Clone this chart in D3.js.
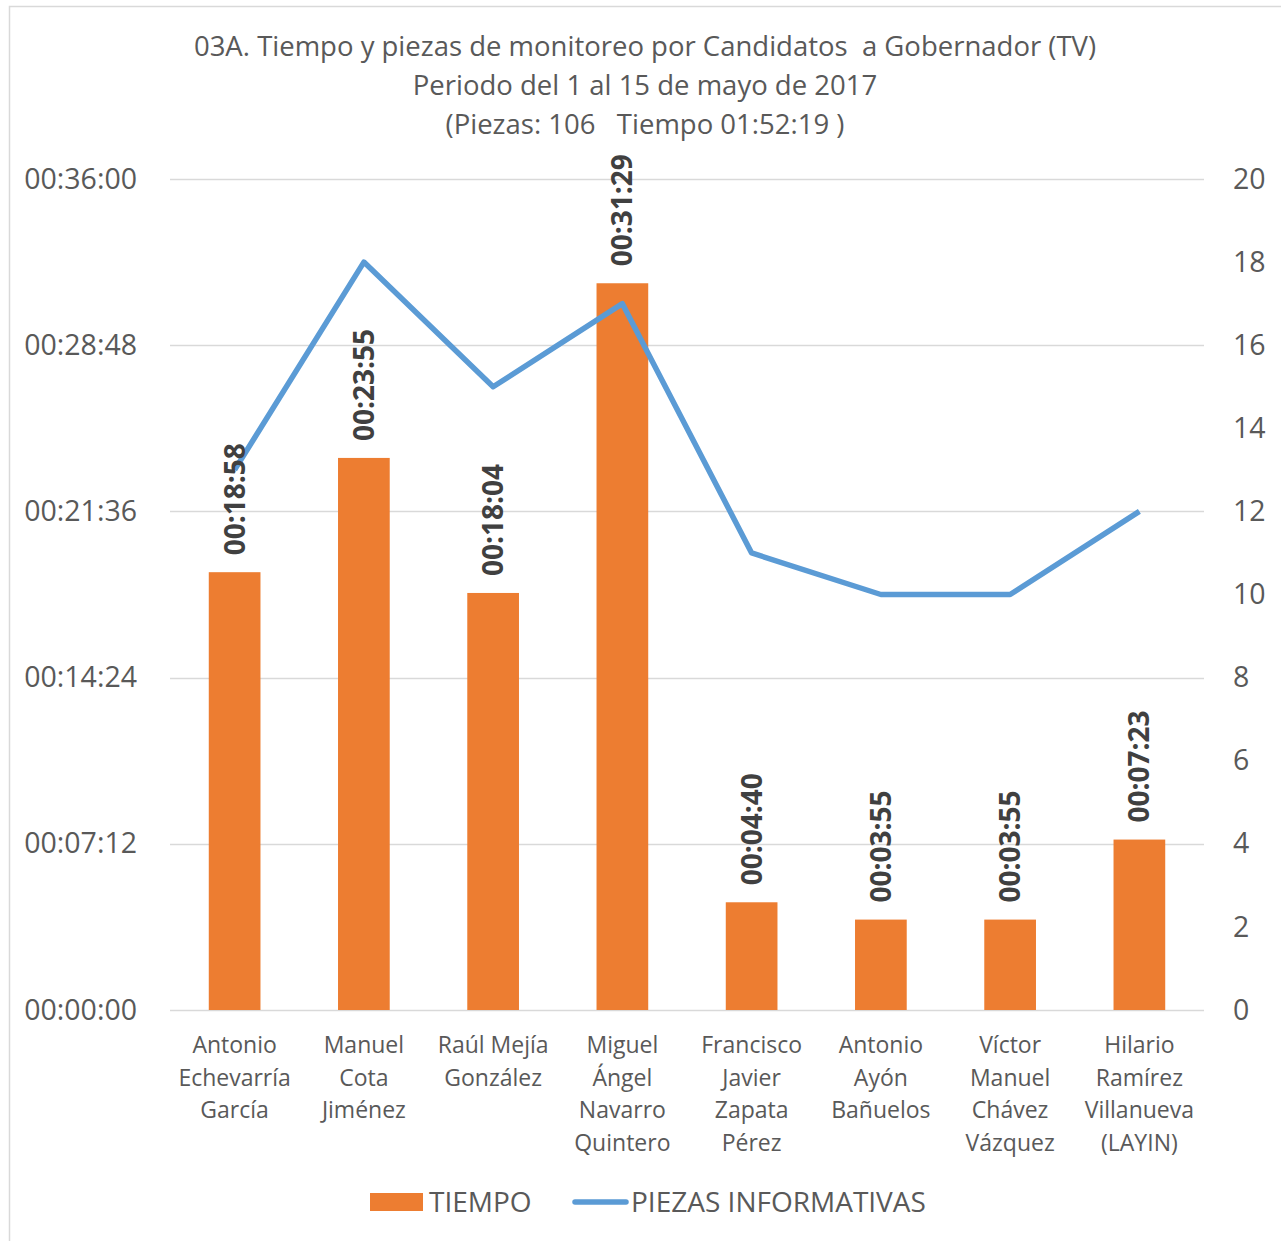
<!DOCTYPE html>
<html>
<head>
<meta charset="utf-8">
<script src="https://cdn.jsdelivr.net/npm/d3@7"></script>
<style>
  body { margin: 0; background: #fff; }
  text { font-family: "Open Sans", sans-serif; fill: #595959; white-space: pre; }
</style>
</head>
<body>
<div id="chart"></div>
<script>
// Datos del monitoreo (TV), 1 al 15 de mayo de 2017
const candidatos = [
    'Antonio\nEchevarría\nGarcía',
    'Manuel\nCota\nJiménez',
    'Raúl Mejía\nGonzález',
    'Miguel\nÁngel\nNavarro\nQuintero',
    'Francisco\nJavier\nZapata\nPérez',
    'Antonio\nAyón\nBañuelos',
    'Víctor\nManuel\nChávez\nVázquez',
    'Hilario\nRamírez\nVillanueva\n(LAYIN)'
];
const tiempo = ['00:18:58', '00:23:55', '00:18:04', '00:31:29', '00:04:40', '00:03:55', '00:03:55', '00:07:23'];
const piezas = [13, 18, 15, 17, 11, 10, 10, 12];
const tiempoTicks = ['00:00:00', '00:07:12', '00:14:24', '00:21:36', '00:28:48', '00:36:00'];
const piezasTicks = [0, 2, 4, 6, 8, 10, 12, 14, 16, 18, 20];
const titulo = [
    '03A. Tiempo y piezas de monitoreo por Candidatos  a Gobernador (TV)',
    'Periodo del 1 al 15 de mayo de 2017',
    '(Piezas: 106   Tiempo 01:52:19 )'
];

const toSec = s => { const p = s.split(':').map(Number); return p[0] * 3600 + p[1] * 60 + p[2]; };

const width = 1281, height = 1241;
const plotLeft = 170, plotRight = 1204, plotTop = 179, plotBottom = 1010;
const orange = '#ED7D31', blue = '#5B9BD5';

const svg = d3.select('#chart').append('svg')
    .attr('width', width)
    .attr('height', height);

// marco
svg.append('rect')
    .attr('x', 9.5).attr('y', 6.5)
    .attr('width', 1300).attr('height', 1300)
    .attr('fill', 'none')
    .attr('stroke', '#D9D9D9')
    .attr('stroke-width', 1.5);

const x = d3.scaleBand()
    .domain(candidatos)
    .range([plotLeft, plotRight])
    .paddingInner(0.6)
    .paddingOuter(0.3);

const yL = d3.scaleLinear()
    .domain([0, toSec(tiempoTicks[tiempoTicks.length - 1])])
    .range([plotBottom, plotTop]);

const yR = d3.scaleLinear()
    .domain([0, 20])
    .range([plotBottom, plotTop]);

// titulo
titulo.forEach((t, i) => {
    svg.append('text')
        .attr('x', 645)
        .attr('y', 46 + i * 39)
        .attr('dy', '0.35em')
        .attr('text-anchor', 'middle')
        .style('font-size', '27.5px')
        .text(t);
});

// grid lines
svg.append('g')
    .selectAll('line')
    .data(tiempoTicks)
    .join('line')
    .attr('x1', plotLeft)
    .attr('x2', plotRight)
    .attr('y1', d => Math.round(yL(toSec(d))) + 0.5)
    .attr('y2', d => Math.round(yL(toSec(d))) + 0.5)
    .attr('stroke', '#D9D9D9')
    .attr('stroke-width', 1.5);

// eje izquierdo
const axisL = svg.append('g')
    .attr('transform', `translate(${plotLeft - 30},0)`)
    .call(d3.axisLeft(yL)
        .tickValues(tiempoTicks.map(toSec))
        .tickFormat((d, i) => tiempoTicks[i])
        .tickSize(0));
axisL.select('.domain').remove();
axisL.selectAll('text')
    .style('font-size', '28.5px')
    .style('font-family', '"Open Sans", sans-serif')
    .attr('fill', '#595959');

// eje derecho
const axisR = svg.append('g')
    .attr('transform', `translate(${plotRight + 29},0)`)
    .call(d3.axisRight(yR)
        .tickValues(piezasTicks)
        .tickSize(0));
axisR.select('.domain').remove();
axisR.selectAll('text')
    .attr('x', 0)
    .style('font-size', '28.5px')
    .style('font-family', '"Open Sans", sans-serif')
    .attr('fill', '#595959');

// barras
svg.append('g')
    .selectAll('rect')
    .data(candidatos)
    .join('rect')
    .attr('x', d => x(d))
    .attr('width', x.bandwidth())
    .attr('y', (d, i) => yL(toSec(tiempo[i])))
    .attr('height', (d, i) => plotBottom - yL(toSec(tiempo[i])))
    .attr('fill', orange);

// linea
const line = d3.line()
    .x((d, i) => x(candidatos[i]) + x.bandwidth() / 2)
    .y(d => yR(d));

svg.append('path')
    .datum(piezas)
    .attr('d', line)
    .attr('fill', 'none')
    .attr('stroke', blue)
    .attr('stroke-width', 5.5)
    .attr('stroke-linejoin', 'round');

// etiquetas de datos
candidatos.forEach((c, i) => {
    const cx = x(c) + x.bandwidth() / 2;
    const cy = yL(toSec(tiempo[i])) - 17;
    svg.append('text')
        .attr('transform', `translate(${cx},${cy}) rotate(-90)`)
        .attr('dy', '0.36em')
        .attr('text-anchor', 'start')
        .style('font-size', '28px')
        .style('font-weight', 'bold')
        .style('fill', '#404040')
        .text(tiempo[i]);
});

// etiquetas de categorias
candidatos.forEach(c => {
    const cx = x(c) + x.bandwidth() / 2;
    c.split('\n').forEach((ln, j) => {
        svg.append('text')
            .attr('x', cx)
            .attr('y', 1045 + j * 32.7)
            .attr('dy', '0.35em')
            .attr('text-anchor', 'middle')
            .style('font-size', '23px')
            .text(ln);
    });
});

// leyenda
const ly = 1202;
svg.append('rect')
    .attr('x', 370).attr('y', ly - 9)
    .attr('width', 53).attr('height', 18)
    .attr('fill', orange);
svg.append('text')
    .attr('x', 429).attr('y', ly)
    .attr('dy', '0.35em')
    .style('font-size', '28px')
    .text('TIEMPO');
svg.append('line')
    .attr('x1', 575).attr('x2', 626)
    .attr('y1', ly).attr('y2', ly)
    .attr('stroke', blue)
    .attr('stroke-width', 5.5)
    .attr('stroke-linecap', 'round');
svg.append('text')
    .attr('x', 631).attr('y', ly)
    .attr('dy', '0.35em')
    .style('font-size', '28px')
    .text('PIEZAS INFORMATIVAS');
</script>
</body>
</html>
